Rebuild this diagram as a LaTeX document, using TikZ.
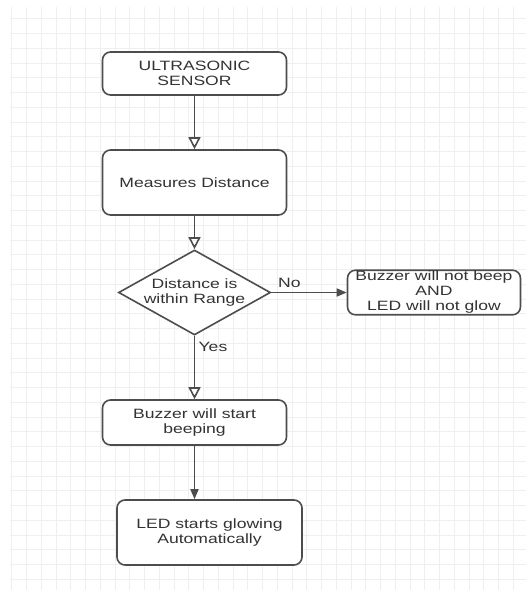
\documentclass[tikz,border=0pt]{standalone}
\usepackage{fontspec}
\usetikzlibrary{shapes.geometric,arrows.meta}
\newfontfamily\flowfont[FakeStretch=1.3]{Liberation Sans}
\definecolor{inkgray}{HTML}{333333}
\definecolor{edgegray}{HTML}{4D4D4D}
\definecolor{gridgray}{HTML}{EFEFEF}

\begin{document}
\begin{tikzpicture}[x=1pt, y=-1pt, node distance=110pt,
    every node/.style={font=\flowfont\fontsize{13.5}{15}\selectfont, text=inkgray}]
    % Styles
    \tikzstyle{process} = [rectangle, rounded corners=8pt, minimum width=184pt, minimum height=43pt, inner sep=2pt, align=center, draw=edgegray, line width=1.6pt, fill=white]
    \tikzstyle{decision} = [diamond, aspect=1.79, minimum width=152pt, minimum height=85pt, inner sep=0pt, align=center, draw=edgegray, line width=1.6pt, fill=white]
    \tikzstyle{openarrow} = [draw=edgegray, line width=1.6pt, -{Triangle[open, length=12pt, width=12pt]}]
    \tikzstyle{fillarrow} = [draw=edgegray, line width=1.6pt, -{Triangle[length=10pt, width=8pt]}]

    % Canvas and grid
    \useasboundingbox (0,0) rectangle (526,590);
    \fill[white] (0,0) rectangle (526,590);
    \foreach \gx in {0,...,35} \draw[gridgray, line width=0.8pt] (11.7+14.75*\gx,7) -- (11.7+14.75*\gx,590);
    \foreach \gy in {0,...,39} \draw[gridgray, line width=0.8pt] (10,18.75+14.75*\gy) -- (526,18.75+14.75*\gy);

    % Nodes
    \node (sensor)  [process] at (194.5,73.5) {ULTRASONIC\\SENSOR};
    \node (measure) [process, below of=sensor, minimum height=65pt, yshift=1pt] {Measures Distance};
    \node (check)   [decision, below of=measure] {Distance is\\within Range};
    \node (nobeep)  [process, right of=check, node distance=239.5pt, minimum width=173pt, minimum height=44pt, inner sep=1pt] {Buzzer will not beep\\AND\\LED will not glow};
    \node (beep)    [process, below of=check, node distance=130pt, minimum height=45pt] {Buzzer will start\\beeping};
    \node (glow)    [process, below of=beep, xshift=15pt, minimum width=185pt, minimum height=65pt] {LED starts glowing\\Automatically};

    % Arrows
    \draw [openarrow] (sensor) -- (measure);
    \draw [openarrow] (measure) -- (check);
    \draw [fillarrow] (check.east) -- node[pos=0.24, above=1pt] {No} (nobeep.west);
    \draw [openarrow] (check.south) -- node[pos=0.17, right=0pt] {Yes} (beep.north);
    \draw [fillarrow] (beep.south) -- (beep.south |- glow.north);
\end{tikzpicture}
\end{document}
